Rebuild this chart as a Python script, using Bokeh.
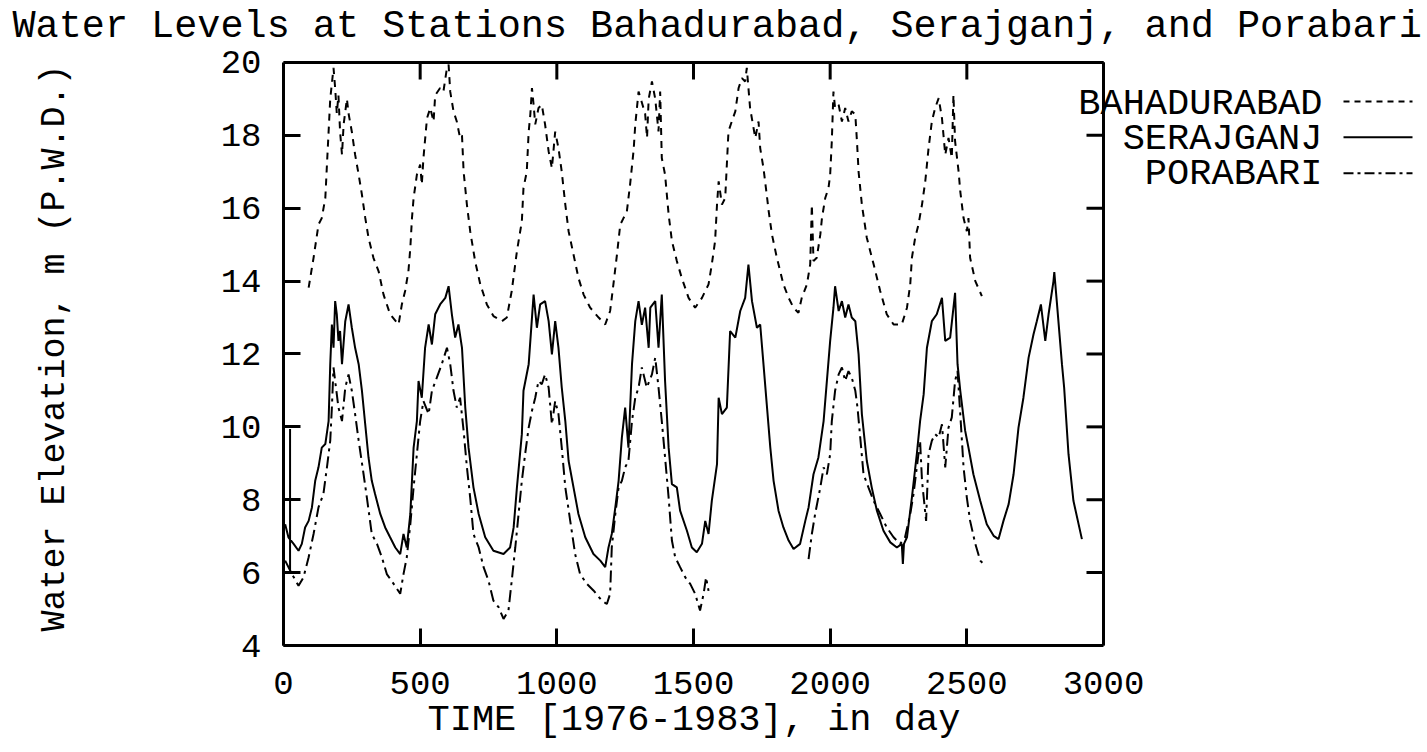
from bokeh.plotting import figure
from bokeh.models import Range1d, FixedTicker, Label, Arrow, Title
from bokeh.embed import file_html
from bokeh.resources import INLINE

NAN = float("nan")

# ---------------- data ----------------
x_ticks = [0, 500, 1000, 1500, 2000, 2500, 3000]
y_ticks = [4, 6, 8, 10, 12, 14, 16, 18, 20]
series_names = ["BAHADURABAD", "SERAJGANJ", "PORABARI"]

bah_day = [92, 110, 128, 140, 153, 159, 165, 171, 183, 189, 195, 201, 207, 214, 220, 232, 238, 250, 262, 275,
           287, 299, 311, 329, 348, 366, 390, 421, 433, 445, 457, 464, 470, 476, 488, 500, 506, 512, 525, 537,
           549, 555, 573, 585, 598, 604, 610, 622, 634, 646, 653, 659, 671, 683, 701, 720, 744, 768, 799, 817,
           835, 854, 872, 878, 890, 897, 903, 909, 915, 921, 933, 945, 957, 970, 982, 994, 1006, 1018, 1031, 1043,
           1061, 1079, 1098, 1122, 1153, 1177, 1195, 1207, 1220, 1232, 1244, 1256, 1268, 1281, 1287, 1299, 1311, 1323, 1330, 1336,
           1348, 1360, 1372, 1378, 1384, 1396, 1409, 1421, 1439, 1457, 1482, 1506, 1531, 1555, 1567, 1579, 1586, 1592, 1604, 1616,
           1622, 1628, 1640, 1653, 1665, 1677, 1689, 1695, 1707, 1726, 1738, 1744, 1756, 1768, 1775, 1787, 1805, 1829, 1848, 1866,
           1884, 1896, 1915, 1927, 1933, 1939, 1951, 1964, 1970, 1982, 1994, 2000, 2006, 2012, 2018, 2031, 2043, 2055, 2067, 2079,
           2092, 2098, 2104, 2116, 2134, 2159, 2183, 2207, 2232, 2262, 2281, 2293, 2299, 2311, 2323, 2336, 2348, 2360, 2372, 2384,
           2397, 2409, 2421, 2433, 2445, 2451, 2457, 2470, 2476, 2488, 2500, 2506, 2512, 2531, 2555]
bah_lvl = [13.82, 14.64, 15.55, 15.73, 16.28, 17.2, 18.1, 19.0, 19.85, 19.3, 18.6, 19.1, 18.1, 17.47, 18.3, 19.0, 18.6, 18.1, 17.47, 16.92,
           16.37, 15.74, 15.19, 14.64, 14.27, 13.63, 13.09, 12.81, 13.36, 13.73, 14.27, 14.91, 15.73, 16.28, 16.92, 17.2, 16.65, 17.38, 18.47, 18.75,
           18.38, 19.1, 19.3, 19.2, 19.85, 19.94, 19.2, 18.66, 18.38, 17.93, 18.0, 17.0, 16.1, 15.37, 14.55, 13.91, 13.36, 13.04, 12.9, 13.0,
           13.73, 14.82, 15.64, 16.56, 17.0, 18.1, 18.57, 19.3, 18.84, 18.3, 18.75, 18.84, 18.3, 17.56, 17.1, 18.1, 17.65, 17.0, 16.1, 15.37,
           14.73, 14.09, 13.63, 13.27, 13.0, 12.81, 13.18, 13.91, 14.73, 15.55, 15.73, 15.9, 16.65, 17.6, 18.3, 19.2, 18.9, 18.6, 17.93, 19.0,
           19.48, 19.0, 18.11, 19.2, 17.38, 16.92, 15.83, 15.1, 14.55, 14.09, 13.54, 13.27, 13.54, 13.91, 14.46, 15.1, 16.1, 16.74, 16.1, 16.28,
           17.2, 18.11, 18.38, 18.66, 19.3, 19.57, 19.48, 19.85, 18.75, 17.93, 18.38, 17.65, 17.1, 16.37, 15.92, 15.28, 14.64, 13.91, 13.54, 13.27,
           13.13, 13.54, 13.91, 14.46, 16.1, 14.55, 14.64, 15.28, 15.73, 16.28, 16.56, 16.92, 17.84, 19.2, 18.75, 18.84, 18.38, 18.75, 18.38, 18.66,
           18.57, 17.84, 17.0, 16.1, 15.19, 14.46, 13.73, 13.09, 12.81, 12.81, 13.27, 13.91, 14.64, 15.19, 15.55, 16.1, 16.74, 17.65, 18.38, 18.75,
           19.02, 18.47, 17.47, 17.93, 17.38, 19.11, 17.84, 17.0, 16.46, 15.73, 15.37, 15.73, 14.64, 14.0, 13.59]

ser_day = [24, 24, NAN,
           6, 18, 37, 55, 67, 79, 92, 104, 116, 128, 140, 153, 165, 171, 177, 183, 189, 195, 201, 207,
           214, 226, 238, 250, 262, 275, 287, 299, 311, 323, 335, 354, 372, 390, 409, 427, 439, 451, 464, 476,
           488, 494, 506, 518, 531, 543, 555, 573, 592, 604, 616, 628, 640, 653, 665, 677, 695, 714, 738, 768,
           805, 829, 842, 854, 872, 878, 897, 909, 915, 927, 939, 957, 970, 982, 994, 1006, 1018, 1031, 1043, 1061,
           1079, 1104, 1134, 1159, 1177, 1189, 1201, 1214, 1226, 1238, 1250, 1262, 1275, 1287, 1299, 1311, 1323, 1336, 1342, 1360,
           1372, 1384, 1396, 1409, 1421, 1439, 1451, 1476, 1494, 1512, 1531, 1543, 1555, 1567, 1586, 1592, 1604, 1622, 1634, 1653,
           1671, 1689, 1701, 1714, 1732, 1744, 1756, 1768, 1781, 1793, 1811, 1829, 1848, 1866, 1890, 1909, 1921, 1939, 1957, 1976,
           1988, 2000, 2012, 2018, 2031, 2043, 2055, 2067, 2079, 2092, 2104, 2116, 2134, 2152, 2171, 2195, 2220, 2244, 2262, 2266,
           2270, 2281, 2299, 2317, 2329, 2342, 2354, 2372, 2390, 2409, 2421, 2439, 2457, 2466, 2476, 2494, 2506, 2524, 2549, 2573,
           2598, 2616, 2634, 2653, 2671, 2689, 2707, 2726, 2744, 2756, 2771, 2787, 2799, 2817, 2820, 2829, 2848, 2856, 2872, 2890, 2921]
ser_lvl = [9.94, 6.05, NAN,
           7.33, 6.97, 6.79, 6.6, 6.79, 7.24, 7.42, 7.79, 8.52, 8.89, 9.43, 9.53, 10.16, 11.72, 12.81, 12.17, 13.45, 13.09, 12.36, 12.63,
           11.72, 12.9, 13.36, 12.72, 12.17, 11.72, 10.99, 10.07, 9.16, 8.52, 8.16, 7.61, 7.24, 6.97, 6.69, 6.51, 7.06, 6.69, 7.61, 9.43,
           10.16, 11.26, 10.8, 12.17, 12.81, 12.26, 13.09, 13.36, 13.54, 13.86, 13.09, 12.45, 12.81, 12.17, 10.53, 9.43, 8.34, 7.61, 6.97, 6.6,
           6.51, 6.69, 7.24, 8.34, 9.8, 10.99, 11.72, 12.99, 13.63, 12.72, 13.36, 13.45, 12.9, 11.99, 12.9, 12.17, 11.08, 10.16, 9.07, 8.34,
           7.61, 6.97, 6.51, 6.33, 6.15, 6.69, 7.06, 7.79, 8.52, 9.71, 10.53, 9.43, 11.72, 12.9, 13.45, 12.8, 13.27, 12.17, 13.27, 13.45,
           12.17, 13.63, 11.26, 9.43, 8.43, 8.34, 7.7, 7.15, 6.69, 6.56, 6.79, 7.42, 7.06, 7.97, 8.98, 10.8, 10.35, 10.53, 12.63, 12.45,
           13.18, 13.54, 14.45, 13.45, 12.72, 12.81, 11.72, 10.62, 9.43, 8.52, 7.7, 7.24, 6.88, 6.65, 6.79, 7.42, 7.79, 8.7, 9.16, 10.16,
           11.26, 12.36, 13.27, 13.86, 13.18, 13.45, 13.0, 13.36, 13.0, 12.9, 11.99, 10.35, 9.07, 8.34, 7.7, 7.15, 6.83, 6.69, 6.79, 6.24,
           6.79, 6.97, 8.06, 9.25, 10.16, 10.89, 12.17, 12.9, 13.09, 13.54, 12.36, 12.45, 13.68, 11.72, 10.99, 9.89, 9.43, 8.7, 7.97, 7.33,
           7.01, 6.92, 7.42, 7.88, 8.7, 9.98, 10.8, 11.9, 12.54, 12.9, 13.36, 12.36, 13.09, 14.0, 14.25, 13.45, 11.72, 11.08, 9.25, 7.97, 6.92]

por_day = [6, 31, 55, 73, 92, 110, 128, 146, 159, 171, 177, 183, 189, 201, 214, 226, 238, 250, 262, 275,
           293, 305, 323, 342, 360, 378, 403, 427, 439, 451, 464, 476, 488, 500, 512, 531, 543, 561, 579, 598,
           610, 622, 634, 646, 659, 671, 683, 695, 714, 732, 750, 768, 787, 805, 823, 835, 848, 860, 872, 884,
           897, 909, 921, 933, 945, 957, 970, 982, 994, 1006, 1018, 1031, 1049, 1067, 1085, 1110, 1134, 1165, 1183, 1195,
           1201, 1214, 1226, 1238, 1250, 1262, 1275, 1287, 1299, 1311, 1329, 1348, 1360, 1372, 1384, 1396, 1409, 1421, 1433, 1451,
           1470, 1488, 1506, 1524, 1537, 1546, 1555, NAN,
           1921, 1933, 1945, 1964, 1976, 1988, 2000, 2006, 2018, 2031, 2043, 2055, 2067, 2079, 2092, 2100, 2110, 2122, 2140, 2159,
           2183, 2207, 2232, 2256, 2274, 2293, 2305, 2317, 2329, 2336, 2351, 2360, 2372, 2384, 2397, 2409, 2421, 2433, 2445, 2457,
           2466, 2476, 2488, 2500, 2512, 2531, 2549, 2561]
por_lvl = [6.33, 5.96, 5.64, 5.87, 6.42, 7.06, 7.79, 8.16, 8.89, 9.62, 10.53, 11.63, 11.26, 10.53, 10.16, 11.08, 11.44, 10.99, 10.35, 9.62,
           8.7, 8.06, 7.06, 6.79, 6.42, 5.96, 5.69, 5.42, 5.96, 6.42, 7.33, 8.34, 9.25, 10.16, 10.71, 10.35, 10.99, 11.35, 11.72, 12.17,
           11.72, 10.99, 10.53, 10.8, 9.89, 8.89, 8.06, 7.06, 6.69, 6.15, 5.78, 5.23, 5.05, 4.73, 4.96, 5.78, 6.69, 7.61, 8.52, 9.25,
           9.98, 10.44, 10.8, 11.26, 11.17, 11.44, 11.08, 10.07, 10.71, 10.35, 9.43, 8.34, 7.42, 6.51, 5.96, 5.69, 5.51, 5.23, 5.14, 5.42,
           6.69, 7.61, 8.34, 8.52, 8.89, 9.07, 10.16, 10.8, 11.08, 11.63, 11.08, 11.44, 11.9, 11.08, 10.16, 9.16, 8.06, 6.88, 6.42, 6.15,
           5.87, 5.69, 5.42, 4.96, 5.42, 5.87, 5.5, NAN,
           6.37, 7.06, 7.61, 8.34, 8.89, 8.7, 9.25, 10.16, 10.99, 11.44, 11.63, 11.26, 11.53, 11.35, 10.99, 10.53, 9.71, 8.7, 8.34, 7.97,
           7.61, 7.24, 6.97, 6.79, 6.97, 7.61, 8.16, 8.89, 9.62, 8.52, 7.42, 9.25, 9.62, 9.8, 9.71, 10.07, 8.89, 9.98, 10.26, 11.26,
           11.53, 10.35, 8.89, 8.06, 7.42, 6.79, 6.33, 6.24]

# ---------------- layout / style ----------------
FONT = "Liberation Mono"
W, H = 1427, 752
AX_L, AX_R, AX_T, AX_B = 283, 1103, 61, 645   # pixel box of the drawn axes frame
FRAME_T = 49                                   # bokeh frame top (room for title above)
X0, X1, Y0, Y1 = 0, 3000, 4, 20
TICK_PX = 17

def px2x(px):
    return X0 + (px - AX_L) / (AX_R - AX_L) * (X1 - X0)

def py2y(py):
    return Y1 - (py - AX_T) / (AX_B - AX_T) * (Y1 - Y0)

p = figure(width=W, height=H, output_backend="svg", toolbar_location=None,
           x_range=Range1d(X0, px2x(W)), y_range=Range1d(Y0, py2y(FRAME_T)),
           min_border_left=AX_L, min_border_right=0, min_border_top=FRAME_T, min_border_bottom=H - AX_B,
           y_axis_label="Water Elevation, m (P.W.D.)")
p.background_fill_color = "white"
p.border_fill_color = "white"
p.outline_line_color = None
p.xgrid.visible = False
p.ygrid.visible = False

p.title.text = "Water Levels at Stations Bahadurabad, Serajganj, and Porabari"
p.title.text_font = FONT
p.title.text_font_size = "38.5px"
p.title.text_font_style = "normal"
p.title.text_color = "black"
p.title.align = "left"
p.title.offset = 12 - AX_L
p.title.standoff = 4

for ax, ticks, bounds in ((p.xaxis[0], x_ticks, (X0, X1)), (p.yaxis[0], y_ticks, (Y0, Y1))):
    ax.ticker = FixedTicker(ticks=ticks)
    ax.bounds = bounds
    ax.axis_line_width = 3
    ax.axis_line_color = "black"
    ax.major_tick_in = TICK_PX
    ax.major_tick_out = 0
    ax.major_tick_line_width = 3
    ax.major_tick_line_color = "black"
    ax.minor_tick_in = 0
    ax.minor_tick_out = 0
    ax.minor_tick_line_color = None
    ax.major_label_text_font = FONT
    ax.major_label_text_font_size = "34px"
    ax.major_label_text_color = "black"
    ax.axis_label_text_font = FONT
    ax.axis_label_text_font_style = "normal"
    ax.axis_label_text_color = "black"

p.yaxis[0].axis_label_text_font_size = "35px"
p.xaxis[0].major_label_standoff = 26
p.yaxis[0].major_label_standoff = 22
p.yaxis[0].axis_label_standoff = 143

# x-axis title, centred under the drawn box (0..3000)
p.add_layout(Title(text="TIME [1976-1983], in day", align="left", offset=427 - AX_L, standoff=0,
                   text_font=FONT, text_font_size="37px", text_font_style="normal", text_color="black"),
             "below")

# closing top and right edges of the box, with inward ticks
dx_tick = TICK_PX * (X1 - X0) / (AX_R - AX_L)
dy_tick = TICK_PX * (Y1 - Y0) / (AX_B - AX_T)
p.segment(x0=[X0, X1], y0=[Y1, Y0], x1=[X1, X1], y1=[Y1, Y1], line_color="black", line_width=3)
p.segment(x0=x_ticks, y0=[Y1] * len(x_ticks), x1=x_ticks, y1=[Y1 - dy_tick] * len(x_ticks),
          line_color="black", line_width=3)
p.segment(x0=[X1 - dx_tick] * len(y_ticks), y0=y_ticks, x1=[X1] * len(y_ticks), y1=y_ticks,
          line_color="black", line_width=3)

# ---------------- series ----------------
p.line(bah_day, bah_lvl, line_color="black", line_width=2, line_dash="7 6")
p.line(ser_day, ser_lvl, line_color="black", line_width=2)
p.line(por_day, por_lvl, line_color="black", line_width=2, line_dash="12 5 3 5")

# ---------------- legend (text left, sample right) ----------------
dashes = ["6 5", None, "10 4 3 4"]
base_py = [103, 138, 173]
line_py = [100, 136, 172]
for name, d, bpy, lpy in zip(series_names, dashes, base_py, line_py):
    p.add_layout(Label(x=px2x(1322), y=py2y(bpy), text=name, text_font=FONT, text_font_size="37px",
                       text_color="black", text_align="right", text_baseline="alphabetic"))
    kw = dict(end=None, x_start=px2x(1343), y_start=py2y(lpy), x_end=px2x(1412), y_end=py2y(lpy),
              line_color="black", line_width=2)
    if d:
        kw["line_dash"] = d
    p.add_layout(Arrow(**kw))

open("out.html", "w").write(file_html(p, INLINE))
